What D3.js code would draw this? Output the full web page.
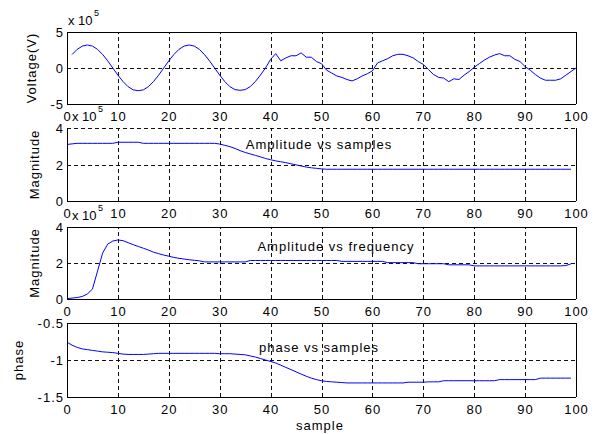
<!DOCTYPE html>
<html><head><meta charset="utf-8">
<script src="https://cdn.jsdelivr.net/npm/d3@7"></script>
<style>
body{margin:0;background:#fff}
svg{display:block}
text{font-family:Arial,"Liberation Sans",sans-serif;fill:#000}
</style>
</head><body>
<svg id="c" width="599" height="434"></svg>
<script>
// ---------- data ----------
const xTicks = [0,10,20,30,40,50,60,70,80,90,100];
const voltageTicks = [-5,0,5];
const magnitudeTicks = [0,2,4];
const phaseTicks = [-1.5,-1,-0.5];

// Voltage (x 1e5), samples 1..100
const voltageSamples = d3.range(1,101);
const voltage = [
 1.88,2.59,3.04,3.2,3.04,2.59,1.88,0.99,0,-0.99,
 -1.88,-2.59,-3.04,-3.15,-3.04,-2.59,-1.88,-0.99,0,0.99,
 1.88,2.59,3.04,3.2,3.04,2.59,1.88,0.99,0,-0.99,
 -1.88,-2.59,-3.0,-3.1,-3.0,-2.59,-1.88,-0.99,0,1.2,
 2.0,1.0,1.4,1.7,1.7,2.1,1.5,1.5,0.9,0.6,
 -0.3,-0.7,-1.1,-1.3,-1.6,-1.8,-1.5,-1.1,-0.8,-0.4,
 0.7,1.0,1.3,1.7,1.9,1.9,1.7,1.4,0.9,0.5,
 -0.2,-0.9,-1.3,-1.4,-1.9,-1.5,-1.6,-1.0,-0.5,0.1,
 0.6,1.1,1.5,1.8,2.0,1.7,1.7,1.2,0.9,0.2,
 -0.3,-0.9,-1.4,-1.7,-1.7,-1.7,-1.5,-1.0,-0.5,0
];

// samples 0..99 for the remaining three series
const samples = d3.range(0,100);
const ampSamples = [
 3.10,3.13,3.16,3.16,3.16,3.16,3.16,3.16,3.16,3.16,
 3.22,3.22,3.22,3.22,3.22,3.16,3.16,3.16,3.16,3.16,
 3.16,3.16,3.16,3.16,3.16,3.16,3.16,3.16,3.16,3.16,
 3.12,3.05,2.98,2.88,2.76,2.66,2.58,2.50,2.42,2.33,
 2.26,2.20,2.15,2.10,2.04,1.98,1.92,1.86,1.82,1.79,
 1.76,1.74,1.74,1.74,1.74,1.74,1.74,1.74,1.74,1.74,
 1.74,1.74,1.74,1.74,1.74,1.74,1.74,1.74,1.74,1.74,
 1.74,1.74,1.74,1.74,1.74,1.74,1.74,1.74,1.74,1.74,
 1.74,1.74,1.74,1.74,1.74,1.74,1.74,1.74,1.74,1.74,
 1.74,1.74,1.74,1.74,1.74,1.74,1.74,1.74,1.74,1.74
];
const ampFreq = [
 0.02,0.05,0.08,0.14,0.28,0.55,1.55,2.55,3.05,3.22,
 3.28,3.24,3.13,3.02,2.92,2.82,2.72,2.60,2.52,2.44,
 2.38,2.31,2.26,2.22,2.18,2.15,2.12,2.06,2.06,2.06,
 2.06,2.06,2.06,2.06,2.06,2.06,2.14,2.14,2.14,2.14,
 2.14,2.14,2.14,2.14,2.14,2.14,2.14,2.14,2.14,2.14,
 2.14,2.14,2.14,2.14,2.09,2.09,2.09,2.09,2.09,2.09,
 2.09,2.09,2.09,2.02,2.02,2.02,2.02,2.02,2.02,1.96,
 1.96,1.96,1.96,1.96,1.96,1.90,1.90,1.90,1.90,1.90,
 1.84,1.84,1.84,1.84,1.84,1.84,1.84,1.84,1.84,1.84,
 1.84,1.84,1.84,1.84,1.84,1.84,1.84,1.84,1.86,1.95
];
const phase = [
 -0.76,-0.80,-0.83,-0.85,-0.86,-0.87,-0.88,-0.89,-0.895,-0.90,
 -0.91,-0.92,-0.925,-0.925,-0.925,-0.925,-0.92,-0.915,-0.91,-0.91,
 -0.91,-0.91,-0.91,-0.91,-0.91,-0.91,-0.91,-0.91,-0.91,-0.91,
 -0.915,-0.915,-0.915,-0.92,-0.925,-0.93,-0.945,-0.96,-0.98,-1.00,
 -1.02,-1.04,-1.07,-1.10,-1.13,-1.16,-1.19,-1.22,-1.245,-1.265,
 -1.28,-1.29,-1.295,-1.30,-1.305,-1.31,-1.31,-1.31,-1.31,-1.31,
 -1.31,-1.31,-1.31,-1.31,-1.31,-1.31,-1.31,-1.30,-1.30,-1.30,
 -1.30,-1.295,-1.295,-1.295,-1.28,-1.28,-1.28,-1.28,-1.28,-1.28,
 -1.28,-1.28,-1.28,-1.28,-1.28,-1.265,-1.265,-1.265,-1.265,-1.265,
 -1.265,-1.265,-1.265,-1.245,-1.245,-1.245,-1.245,-1.245,-1.245,-1.245
];

// ---------- layout ----------
const svg = d3.select("#c");
const X0 = 67, X1 = 576;
const x = d3.scaleLinear().domain([0,100]).range([X0,X1]);
const FONT = 13;

const panels = [
  {top:32, bottom:104, domain:[-5,5], ticks:voltageTicks, xs:voltageSamples, ys:voltage,
   ylabel:"Voltage(V)", ylabelX:36, exp:true, expX:68, title:null},
  {top:128, bottom:201, domain:[0,4], ticks:magnitudeTicks, xs:samples, ys:ampSamples,
   ylabel:"Magnitude", ylabelX:39, exp:true, expX:72, dashedTop:true,
   title:"Amplitude vs samples", titleX:319, titleY:149},
  {top:227, bottom:299, domain:[0,4], ticks:magnitudeTicks, xs:samples, ys:ampFreq,
   ylabel:"Magnitude", ylabelX:39, exp:true, expX:72,
   title:"Amplitude vs frequency", titleX:336, titleY:251},
  {top:323, bottom:397, domain:[-1.5,-0.5], ticks:phaseTicks, xs:samples, ys:phase,
   ylabel:"phase", ylabelX:23, exp:false,
   title:"phase vs samples", titleX:319, titleY:352}
];

panels.forEach(p => {
  const y = d3.scaleLinear().domain(p.domain).range([p.bottom,p.top]);
  const h = p.bottom - p.top, w = X1 - X0;
  const g = svg.append("g");

  // grid (dotted)
  const gx = g.append("g").attr("transform",`translate(0,${p.bottom})`)
    .call(d3.axisBottom(x).tickValues(xTicks).tickSize(-h).tickFormat(""));
  const gy = g.append("g").attr("transform",`translate(${X0},0)`)
    .call(d3.axisLeft(y).tickValues(p.ticks).tickSize(-w).tickFormat(""));
  [gx,gy].forEach(a => {
    a.select(".domain").remove();
    a.selectAll("line").attr("stroke","#111").attr("stroke-width",1)
      .attr("stroke-dasharray","4,3").attr("shape-rendering","crispEdges");
  });

  // line
  const line = d3.line().x((d,i)=>x(p.xs[i])).y(d=>y(d));
  g.append("path").datum(p.ys).attr("d",line)
    .attr("fill","none").attr("stroke","#0000ff").attr("stroke-width",1);

  // box
  const box = g.append("g").attr("stroke","#000").attr("stroke-width",1)
    .attr("shape-rendering","crispEdges");
  box.append("line").attr("x1",X0).attr("x2",X1).attr("y1",p.bottom).attr("y2",p.bottom);
  box.append("line").attr("x1",X0).attr("x2",X0).attr("y1",p.top).attr("y2",p.bottom);
  box.append("line").attr("x1",X1).attr("x2",X1).attr("y1",p.top).attr("y2",p.bottom);
  if (!p.dashedTop) box.append("line").attr("x1",X0).attr("x2",X1).attr("y1",p.top).attr("y2",p.top);

  // tick labels
  const ax = g.append("g").attr("transform",`translate(0,${p.bottom})`)
    .call(d3.axisBottom(x).tickValues(xTicks).tickSize(0).tickFormat(d=>String(d)));
  ax.select(".domain").remove();
  ax.selectAll("text").attr("y",16.5).attr("dy",null)
    .attr("font-size",FONT).attr("font-family",null).attr("fill","#000")
    .style("letter-spacing","1px");
  const ay = g.append("g").attr("transform",`translate(${X0},0)`)
    .call(d3.axisLeft(y).tickValues(p.ticks).tickSize(0).tickFormat(d=>String(d)));
  ay.select(".domain").remove();
  ay.selectAll("text").attr("x",-3).attr("dy","0.36em")
    .attr("font-size",FONT).attr("font-family",null).attr("fill","#000")
    .style("letter-spacing","1px");

  // y label
  g.append("text")
    .attr("transform",`translate(${p.ylabelX},${(p.top+p.bottom)/2}) rotate(-90)`)
    .attr("text-anchor","middle").attr("font-size",FONT)
    .style("letter-spacing","1px").text(p.ylabel);

  // exponent
  if (p.exp) {
    g.append("text").attr("x",p.expX).attr("y",p.top-7.5).attr("font-size",FONT)
      .text("x 10");
    g.append("text").attr("x",p.expX+26).attr("y",p.top-16).attr("font-size",9)
      .text("5");
  }

  // title
  if (p.title) {
    g.append("text").attr("x",p.titleX).attr("y",p.titleY)
      .attr("text-anchor","middle").attr("font-size",FONT)
      .style("letter-spacing","1px").text(p.title);
  }
});

svg.append("text").attr("x",320).attr("y",430).attr("text-anchor","middle")
  .attr("font-size",FONT).style("letter-spacing","1px").text("sample");
</script>
</body></html>
